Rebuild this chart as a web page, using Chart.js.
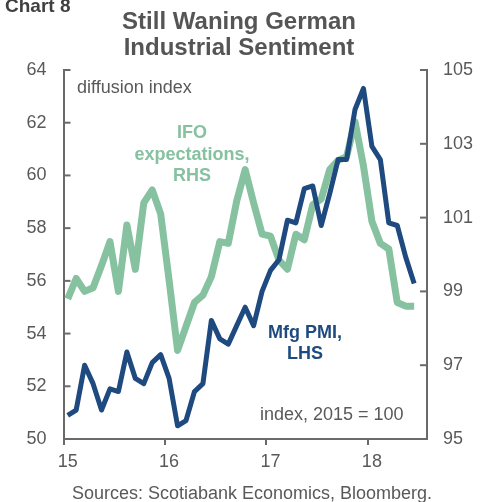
<!DOCTYPE html>
<html><head><meta charset="utf-8">
<script src="https://cdn.jsdelivr.net/npm/chart.js@4"></script>
<style>html,body{margin:0;padding:0;background:#fff;overflow:hidden;}</style>
</head><body>
<canvas id="c" width="489" height="502"></canvas>
<script>
// ---- data ----
const months = [
 '2015-01','2015-02','2015-03','2015-04','2015-05','2015-06','2015-07','2015-08','2015-09','2015-10','2015-11','2015-12',
 '2016-01','2016-02','2016-03','2016-04','2016-05','2016-06','2016-07','2016-08','2016-09','2016-10','2016-11','2016-12',
 '2017-01','2017-02','2017-03','2017-04','2017-05','2017-06','2017-07','2017-08','2017-09','2017-10','2017-11','2017-12',
 '2018-01','2018-02','2018-03','2018-04','2018-05','2018-06'];
const mfgPMI = [
 50.9,51.1,52.8,52.1,51.1,51.9,51.8,53.3,52.3,52.1,52.9,53.2,
 52.3,50.5,50.7,51.8,52.1,54.5,53.8,53.6,54.3,55.0,54.3,55.6,
 56.4,56.8,58.3,58.2,59.5,59.6,58.1,59.3,60.6,60.6,62.5,63.3,
 61.1,60.6,58.2,58.1,56.9,55.9];
const ifoExpectations = [
 98.8,99.35,99.0,99.1,99.7,100.35,99.0,100.8,99.6,101.4,101.75,101.1,
 99.3,97.4,98.05,98.7,98.9,99.4,100.35,100.3,101.45,102.3,101.4,100.55,
 100.5,99.85,99.6,100.55,100.4,101.35,101.5,102.3,102.55,102.65,103.6,102.4,
 100.9,100.3,100.15,98.7,98.6,98.6];
const xTickLabels = {2015:'15',2016:'16',2017:'17',2018:'18'};
const leftAxisRange = [50, 64];
const rightAxisRange = [95, 105];

// ---- build ----
function monthPos(m){ const [y,mo]=m.split('-').map(Number); return y + (mo-0.5)/12; }
const pmiPts = months.map((m,i)=>({x:monthPos(m), y:mfgPMI[i]}));
const ifoPts = months.map((m,i)=>({x:monthPos(m), y:ifoExpectations[i]}));

const FONT = '"Liberation Sans", Arial, sans-serif';
const GREY = '#595959';
const AXIS = '#6a6a6a';
const GREEN = '#86C1A0';
const NAVY = '#1F4A7F';

const decor = {
  id:'decor',
  afterDraw(chart){
    const ctx = chart.ctx;
    ctx.save();
    ctx.strokeStyle = AXIS; ctx.lineWidth = 2;
    const ys = chart.scales.y, yr = chart.scales.y1, ca = chart.chartArea;
    ys.ticks.forEach(t=>{ const p=ys.getPixelForValue(t.value); ctx.beginPath(); ctx.moveTo(ca.left,p); ctx.lineTo(ca.left+7,p); ctx.stroke(); });
    yr.ticks.forEach(t=>{ const p=yr.getPixelForValue(t.value); ctx.beginPath(); ctx.moveTo(ca.right,p); ctx.lineTo(ca.right-7,p); ctx.stroke(); });
    ctx.textBaseline = 'alphabetic';
    ctx.fillStyle = '#404040'; ctx.font = 'bold 19px '+FONT; ctx.textAlign='left';
    ctx.fillText('Chart 8', 5, 12);
    ctx.fillStyle = '#555555'; ctx.font = 'bold 24px '+FONT; ctx.textAlign='center';
    ctx.fillText('Still Waning German', 239, 29);
    ctx.fillText('Industrial Sentiment', 239, 55);
    ctx.fillStyle = GREY; ctx.font = '18px '+FONT; ctx.textAlign='left';
    ctx.fillText('diffusion index', 77, 93);
    ctx.fillText('index, 2015 = 100', 260, 420);
    ctx.textAlign='center';
    ctx.fillText('Sources: Scotiabank Economics, Bloomberg.', 252, 499);
    ctx.fillStyle = GREEN; ctx.font = 'bold 18px '+FONT;
    ctx.fillText('IFO', 192, 138);
    ctx.fillText('expectations,', 192, 159.5);
    ctx.fillText('RHS', 192, 181);
    ctx.fillStyle = NAVY;
    ctx.fillText('Mfg PMI,', 305, 338);
    ctx.fillText('LHS', 305, 359);
    ctx.restore();
  }
};

new Chart(document.getElementById('c'), {
  type:'line',
  data:{ datasets:[
    {label:'Mfg PMI, LHS', data:pmiPts, yAxisID:'y', borderColor:NAVY, borderWidth:5, pointRadius:0, tension:0, order:0, borderJoinStyle:'round'},
    {label:'IFO expectations, RHS', data:ifoPts, yAxisID:'y1', borderColor:GREEN, borderWidth:7, pointRadius:0, tension:0, order:1, borderJoinStyle:'round'}
  ]},
  options:{
    responsive:false, animation:false,
    layout:{padding:{top:70,left:0,right:0,bottom:0}},
    plugins:{legend:{display:false}, tooltip:{enabled:false}},
    scales:{
      x:{type:'linear', position:'bottom', min:2015, max:2018.585,
         ticks:{stepSize:1, includeBounds:false, autoSkip:false, maxRotation:0, labelOffset:4.2, padding:6,
                color:GREY, font:{family:FONT,size:18}, callback:v=>xTickLabels[v]||''},
         grid:{display:true, drawOnChartArea:false, drawTicks:true, tickLength:6, color:AXIS, lineWidth:2},
         border:{display:true, color:AXIS, width:2},
         afterFit:s=>{s.height=63;}},
      y:{position:'left', min:leftAxisRange[0], max:leftAxisRange[1],
         ticks:{stepSize:2, padding:17, color:GREY, font:{family:FONT,size:18}},
         grid:{display:false, drawTicks:false},
         border:{display:true, color:AXIS, width:2},
         afterFit:s=>{s.width=63.5;}},
      y1:{position:'right', min:rightAxisRange[0], max:rightAxisRange[1],
         ticks:{stepSize:2, padding:16, color:GREY, font:{family:FONT,size:18}},
         grid:{display:false, drawTicks:false},
         border:{display:true, color:AXIS, width:2},
         afterFit:s=>{s.width=62;}}
    }
  },
  plugins:[decor]
});
</script>
</body></html>
